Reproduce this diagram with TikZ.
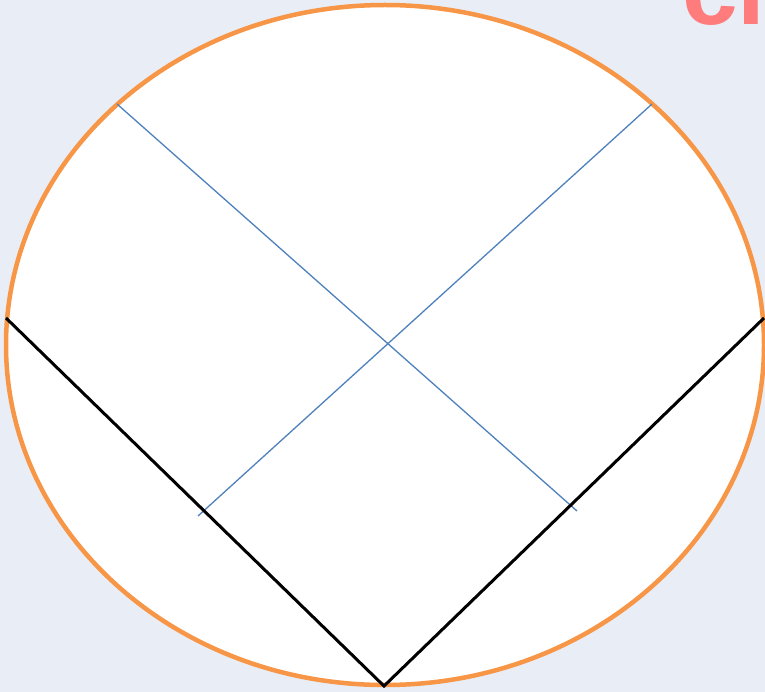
\documentclass[tikz,border=0pt]{standalone}
\usepackage{fontspec}
\setmainfont{Liberation Sans}
\definecolor{bgc}{HTML}{E9EDF5}
\definecolor{orangec}{HTML}{F79646}
\definecolor{bluec}{HTML}{4F81BD}
\definecolor{redc}{HTML}{FF7C7C}
\tikzset{
  rim/.style={draw=orangec, line width=4.5pt, fill=white},
  diag/.style={draw=bluec, line width=1.3pt},
  vee/.style={draw=black, line width=3pt, line join=miter},
  title/.style={text=redc, font=\fontsize{100}{100}\selectfont\bfseries, inner sep=0pt, anchor=base west}
}
\begin{document}
\begin{tikzpicture}[x=1pt,y=-1pt]
\useasboundingbox (0,0) rectangle (765,692);
\fill[bgc] (0,0) rectangle (765,692);
\begin{scope}
\clip (0,0) rectangle (765,692);
\node[title] (t) at (682,25) {cl};
\end{scope}
\path[rim] (385,345) ellipse [x radius=379, y radius=340];
\coordinate (b1) at (117,104);
\coordinate (b2) at (577,511);
\coordinate (b3) at (652,104);
\coordinate (b4) at (198,516);
\coordinate (l) at (6,318);
\coordinate (v) at (384,686);
\coordinate (r) at (764,318);
\draw[diag] (b1) -- (b2);
\draw[diag] (b3) -- (b4);
\draw[vee] (l) -- (v) -- (r);
\end{tikzpicture}
\end{document}
